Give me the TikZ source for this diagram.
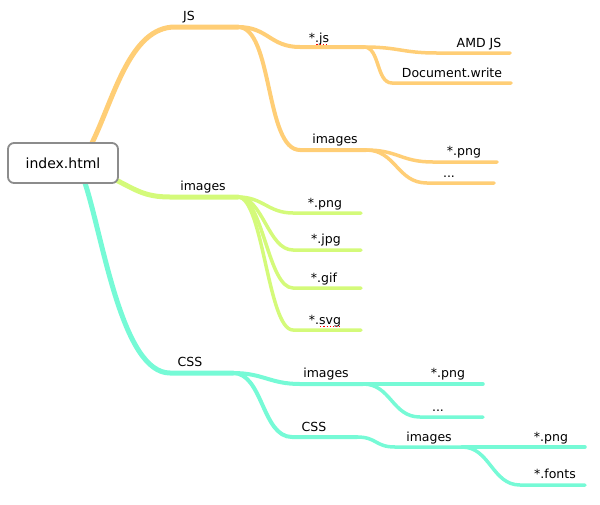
\documentclass[tikz,border=0pt]{standalone}
\usepackage{fontspec}
\setmainfont{DejaVu Sans}
\usepackage{tikz}
\definecolor{jsorange}{RGB}{255,206,118}
\definecolor{imggreen}{RGB}{212,250,122}
\definecolor{csscyan}{RGB}{118,250,214}

\begin{document}
\begin{tikzpicture}[x=1pt,y=-1pt,font=\fontsize{12.5}{14}\selectfont]
            \tikzstyle{root}=[draw=gray!90,line width=1.8pt,fill=white,rounded corners=6pt,minimum width=110pt,minimum height=40pt,font=\fontsize{14}{16}\selectfont]
            \tikzstyle{topic}=[anchor=base,inner sep=0pt]
            \tikzstyle{lvla}=[line width=5pt,line cap=round]
            \tikzstyle{lvlb}=[line width=4pt,line cap=round]
            \tikzstyle{lvlc}=[line width=3.5pt,line cap=round]
            \tikzstyle{typo}=[red,dotted,line width=1.2pt]
            \useasboundingbox (0,0) rectangle (600,504);

            % branch points: s = start of the underline, e = its end
            \coordinate (rootjs) at (92,143);
            \coordinate (rootimg) at (116,180);
            \coordinate (rootcss) at (85,183);
            \coordinate (js-s) at (175,27);         \coordinate (js-e) at (238,27);
            \coordinate (jsfile-s) at (300,47);     \coordinate (jsfile-e) at (364,47);
            \coordinate (amd-s) at (437,53);        \coordinate (amd-e) at (510,53);
            \coordinate (docw-s) at (392,83);       \coordinate (docw-e) at (511,83);
            \coordinate (jsimg-s) at (300,150);     \coordinate (jsimg-e) at (366,150);
            \coordinate (jspng-s) at (433,162);     \coordinate (jspng-e) at (497,162);
            \coordinate (jsdots-s) at (427,183);    \coordinate (jsdots-e) at (494,183);
            \coordinate (img-s) at (170,197);       \coordinate (img-e) at (238,197);
            \coordinate (css-s) at (170,373);       \coordinate (css-e) at (233,373);
            \coordinate (cssimg-s) at (300,384);    \coordinate (cssimg-e) at (363,384);
            \coordinate (csspng-e) at (483,384);
            \coordinate (cssdots-s) at (420,417);   \coordinate (cssdots-e) at (483,417);
            \coordinate (csssub-s) at (292,437);    \coordinate (csssub-e) at (357,437);
            \coordinate (subimg-s) at (395,447);    \coordinate (subimg-e) at (462,447);
            \coordinate (subpng-e) at (585,447);
            \coordinate (fonts-s) at (520,485);     \coordinate (fonts-e) at (585,485);

            % JS
            \draw[lvla,jsorange] (rootjs) .. controls +(22,-45) and +(-45,0) .. (js-s) -- (js-e);
            \draw[lvlb,jsorange] (js-e) .. controls +(30,0) and +(-30,0) .. (jsfile-s) -- (jsfile-e);
            \draw[lvlb,jsorange] (js-e) .. controls +(35,0) and +(-35,0) .. (jsimg-s) -- (jsimg-e);
            \draw[lvlc,jsorange] (jsfile-e) .. controls +(35,0) and +(-35,0) .. (amd-s) -- (amd-e);
            \draw[lvlc,jsorange] (jsfile-e) .. controls +(16,0) and +(-16,0) .. (docw-s) -- (docw-e);
            \draw[lvlc,jsorange] (jsimg-e) .. controls +(32,0) and +(-32,0) .. (jspng-s) -- (jspng-e);
            \draw[lvlc,jsorange] (jsimg-e) .. controls +(30,0) and +(-30,0) .. (jsdots-s) -- (jsdots-e);

            % images
            \draw[lvla,imggreen] (rootimg) .. controls +(20,10) and +(-25,0) .. (img-s) -- (img-e);
            \foreach \y/\name in {213/png,250/jpg,288/gif,330/svg}{
                \coordinate (img\name-s) at (293,\y);
                \coordinate (img\name-e) at (361,\y);
                \draw[lvlc,imggreen] (img-e) .. controls +(25,0) and +(-25,0) .. (img\name-s) -- (img\name-e);
            }

            % CSS
            \draw[lvla,csscyan] (rootcss) .. controls +(18,55) and +(-48,0) .. (css-s) -- (css-e);
            \draw[lvlb,csscyan] (css-e) .. controls +(30,0) and +(-30,0) .. (cssimg-s) -- (cssimg-e);
            \draw[lvlb,csscyan] (css-e) .. controls +(30,0) and +(-30,0) .. (csssub-s) -- (csssub-e);
            \draw[lvlc,csscyan] (cssimg-e) -- (csspng-e);
            \draw[lvlc,csscyan] (cssimg-e) .. controls +(28,0) and +(-28,0) .. (cssdots-s) -- (cssdots-e);
            \draw[lvlc,csscyan] (csssub-e) .. controls +(20,0) and +(-20,0) .. (subimg-s) -- (subimg-e);
            \draw[lvlc,csscyan] (subimg-e) -- (subpng-e);
            \draw[lvlc,csscyan] (subimg-e) .. controls +(28,0) and +(-28,0) .. (fonts-s) -- (fonts-e);

            \node[root] (index) at (63,163) {index.html};

            % labels
            \node[topic] (jsl) at (189,20) {JS};
            \node[topic] (jsfilel) at (319,42) {*.js};
            \node[topic] (amdl) at (479,47) {AMD JS};
            \node[topic] (docwl) at (452,77) {Document.write};
            \node[topic] (jsimgl) at (335,143) {images};
            \node[topic] (jspngl) at (464,155) {*.png};
            \node[topic] (jsdotsl) at (449,177) {...};
            \node[topic] (imgl) at (203,190) {images};
            \node[topic] (imgpngl) at (325,207) {*.png};
            \node[topic] (imgjpgl) at (326,243) {*.jpg};
            \node[topic] (imggifl) at (324,282) {*.gif};
            \node[topic] (imgsvgl) at (325,324) {*.svg};
            \node[topic] (cssl) at (190,366) {CSS};
            \node[topic] (cssimgl) at (326,377) {images};
            \node[topic] (csspngl) at (448,377) {*.png};
            \node[topic] (cssdotsl) at (438,411) {...};
            \node[topic] (csssubl) at (314,431) {CSS};
            \node[topic] (subimgl) at (429,441) {images};
            \node[topic] (subpngl) at (551,441) {*.png};
            \node[topic] (fontsl) at (555,478) {*.fonts};

            % spelling marks
            \draw[typo] (jsfilel.base east) ++(-13,2.5) -- ++(12,0);
            \draw[typo] (imgsvgl.base east) ++(-21,2.5) -- ++(20,0);
        \end{tikzpicture}
\end{document}
